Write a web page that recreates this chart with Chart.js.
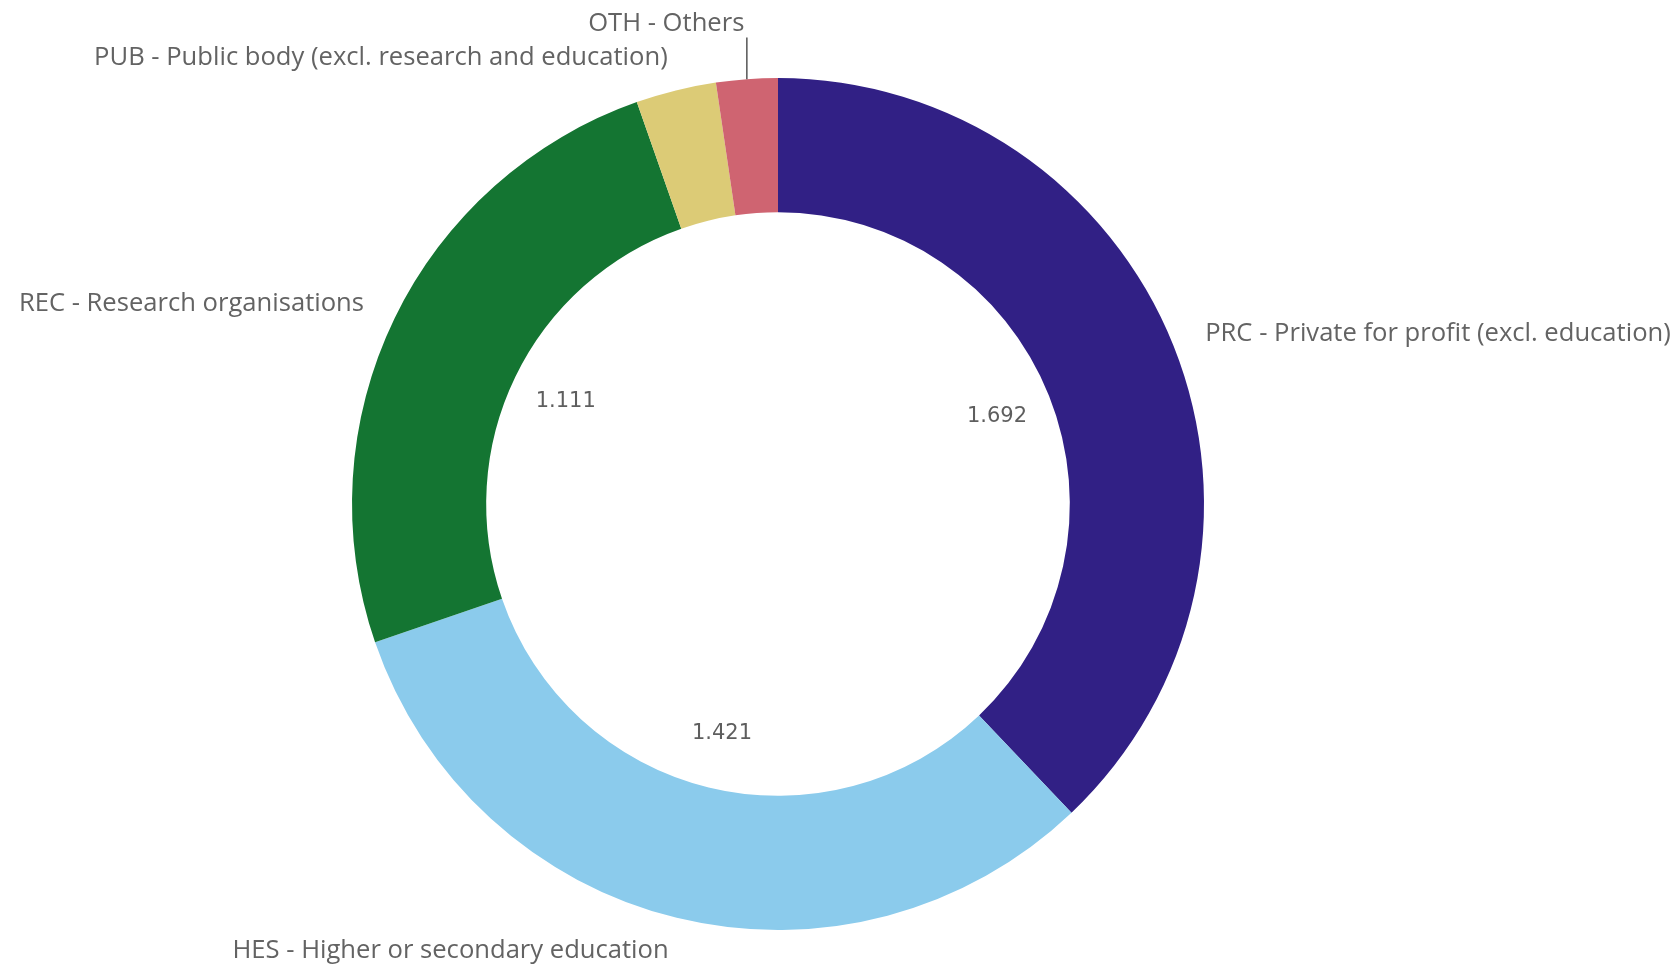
<!DOCTYPE html>
<html>
<head>
<meta charset="utf-8">
<script src="https://cdn.jsdelivr.net/npm/chart.js@4/dist/chart.umd.min.js"></script>
<style>
  html, body { margin: 0; padding: 0; background: #ffffff; }
  #wrap { width: 1679px; height: 964px; position: relative; }
</style>
</head>
<body>
<div id="wrap"><canvas id="c" width="1679" height="964"></canvas></div>
<script>
const categories = [
  "PRC - Private for profit (excl. education)",
  "HES - Higher or secondary education",
  "REC - Research organisations",
  "PUB - Public body (excl. research and education)",
  "OTH - Others"
];
const values = [1692, 1421, 1111, 136, 104];
const colors = ["#312085", "#8bcbec", "#147532", "#dccb76", "#cf6471"];

function fmt(v) {
  return String(v).replace(/\B(?=(\d{3})+(?!\d))/g, ".");
}

const labelPlugin = {
  id: "qlikLabels",
  afterDatasetsDraw(chart) {
    const ctx = chart.ctx;
    const meta = chart.getDatasetMeta(0);
    const labelFont = "25.6px 'Open Sans'";
    const valueFont = "21px 'DejaVu Sans'";
    const lineH = 34;
    const items = meta.data.map((arc, i) => {
      const p = arc.getProps(["x", "y", "startAngle", "endAngle", "outerRadius", "innerRadius"], true);
      const mid = (p.startAngle + p.endAngle) / 2;
      const r = p.outerRadius + 34;
      return {
        i, p, mid,
        ax: p.x + Math.cos(mid) * r,
        ay: p.y + Math.sin(mid) * r,
        right: Math.cos(mid) >= 0,
        span: p.endAngle - p.startAngle
      };
    });
    [true, false].forEach(side => {
      const list = items.filter(it => it.right === side).sort((a, b) => b.ay - a.ay);
      for (let k = 1; k < list.length; k++) {
        const prev = list[k - 1];
        const cur = list[k];
        cur.ly = cur.ly === undefined ? cur.ay : cur.ly;
        const prevY = prev.ly === undefined ? prev.ay : prev.ly;
        if (prevY - cur.ly < lineH) { cur.ly = prevY - lineH; cur.shifted = true; }
      }
    });
    ctx.save();
    items.forEach(it => {
      const ly = it.ly === undefined ? it.ay : it.ly;
      ctx.font = labelFont;
      ctx.fillStyle = "#636363";
      ctx.textBaseline = "middle";
      ctx.textAlign = it.right ? "left" : "right";
      ctx.fillText(categories[it.i], it.ax, ly);
      if (it.shifted) {
        const ex = it.p.x + Math.cos(it.mid) * it.p.outerRadius;
        const ey = it.p.y + Math.sin(it.mid) * it.p.outerRadius;
        ctx.strokeStyle = "#555555";
        ctx.lineWidth = 1.5;
        ctx.beginPath();
        ctx.moveTo(ex, ey);
        ctx.lineTo(ex, ly + 14);
        ctx.stroke();
      }
      if (it.span > 0.6) {
        const vr = it.p.innerRadius - 56;
        ctx.font = valueFont;
        ctx.fillStyle = "#5e5e5e";
        ctx.textAlign = "center";
        ctx.fillText(fmt(values[it.i]), it.p.x + Math.cos(it.mid) * vr, it.p.y + Math.sin(it.mid) * vr);
      }
    });
    ctx.restore();
  }
};

new Chart(document.getElementById("c"), {
  type: "doughnut",
  data: {
    labels: categories,
    datasets: [{
      data: values,
      backgroundColor: colors,
      borderWidth: 0,
      hoverOffset: 0
    }]
  },
  options: {
    responsive: false,
    animation: false,
    cutout: "68.5%",
    layout: { padding: { top: 78, bottom: 34, left: 352, right: 475 } },
    plugins: {
      legend: { display: false },
      tooltip: { enabled: false }
    }
  },
  plugins: [labelPlugin]
});
</script>
</body>
</html>
